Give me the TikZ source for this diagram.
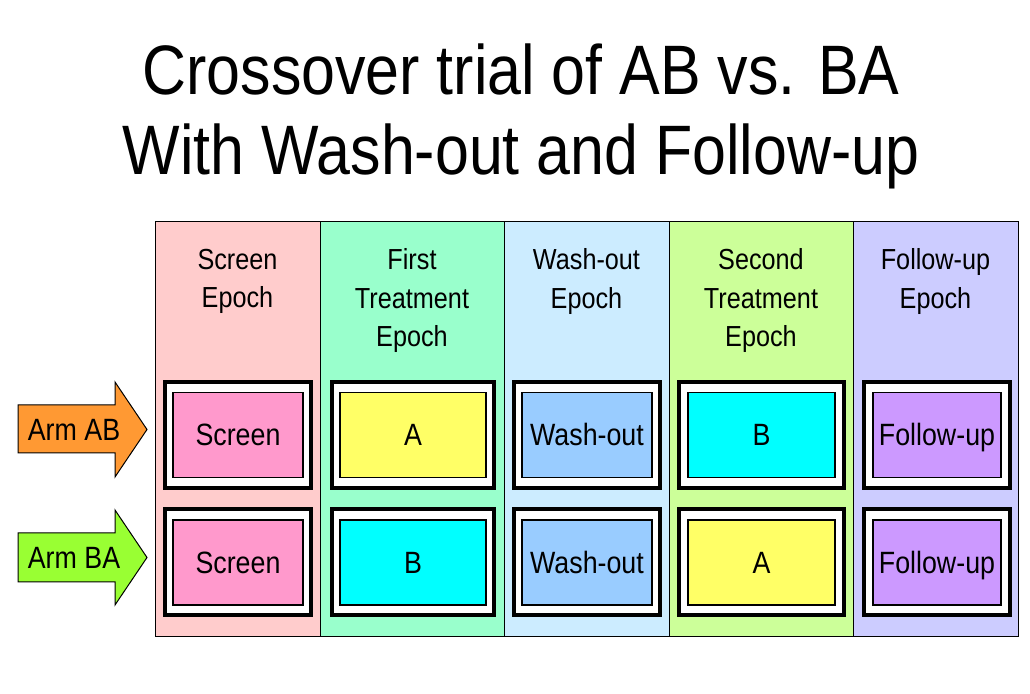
\documentclass[tikz,border=0pt]{standalone}
\usepackage{fontspec}
\setmainfont{Liberation Sans}[FakeStretch=0.87]
\usepackage{tikz}
\usetikzlibrary{positioning}
\definecolor{ScreenBg}{HTML}{FFCCCC}
\definecolor{FirstBg}{HTML}{99FFCC}
\definecolor{WashBg}{HTML}{CCECFF}
\definecolor{SecondBg}{HTML}{CCFF99}
\definecolor{FollowBg}{HTML}{CCCCFF}
\definecolor{ScreenPink}{HTML}{FF99CC}
\definecolor{TreatA}{HTML}{FFFF66}
\definecolor{TreatB}{HTML}{00FFFF}
\definecolor{WashBlue}{HTML}{99CCFF}
\definecolor{FollowLilac}{HTML}{CC99FF}
\definecolor{ArmOrange}{HTML}{FF9933}
\definecolor{ArmGreen}{HTML}{99FF33}
\tikzset{
  epoch/.style={draw=black,line width=0.5pt,minimum height=207.5pt,inner sep=0pt},
  epochtxt/.style={align=center,inner sep=0pt,font=\fontsize{14.5}{19.2}\selectfont},
  frame/.style={draw=black,line width=2pt,fill=white,minimum height=53pt,inner sep=0pt},
  cell/.style={draw=black,line width=0.6pt,minimum height=42.5pt,inner sep=0pt,
    text height=11pt,text depth=0pt,font=\fontsize{15.4}{18}\selectfont},
  armarrow/.style={draw=black,line width=0.5pt},
  armtxt/.style={inner sep=0pt,text height=11pt,text depth=0pt,
    font=\fontsize{15.4}{18}\selectfont}
}

\begin{document}
\begin{tikzpicture}[x=0.5pt,y=-0.5pt]
  \useasboundingbox (0,0) rectangle (1030,694);
  \node[align=center,font=\fontsize{35}{40}\selectfont] (title) at (521,116)
    {Crossover trial of AB vs. BA\\With Wash-out and Follow-up};
  % epoch columns
  \foreach \n/\x/\w/\bg/\hd in {1/237.5/82.5/ScreenBg/{Screen\\Epoch},
      2/412/92/FirstBg/{First\\Treatment\\Epoch},
      3/586.5/82.5/WashBg/{Wash-out\\Epoch},
      4/761/92/SecondBg/{Second\\Treatment\\Epoch},
      5/935.5/82.5/FollowBg/{Follow-up\\Epoch}}{
    \node[epoch,fill=\bg,minimum width=\w pt] (col\n) at (\x,429.5) {};
    \node[epochtxt,below=13.5pt of col\n.north] (head\n) {\hd};
  }
  % arm AB
  \node[frame,minimum width=73pt] (fa1) at (238,435) {};
  \node[frame,minimum width=81pt] (fa2) at (413,435) {};
  \node[frame,minimum width=73pt] (fa3) at (587,435) {};
  \node[frame,minimum width=82.5pt] (fa4) at (761.5,435) {};
  \node[frame,minimum width=73pt] (fa5) at (937,435) {};
  \node[cell,fill=ScreenPink,minimum width=65pt] (ca1) at (fa1) {Screen};
  \node[cell,fill=TreatA,minimum width=73pt] (ca2) at (fa2) {A};
  \node[cell,fill=WashBlue,minimum width=65pt] (ca3) at (fa3) {Wash-out};
  \node[cell,fill=TreatB,minimum width=73.5pt] (ca4) at (fa4) {B};
  \node[cell,fill=FollowLilac,minimum width=64pt] (ca5) at (fa5) {Follow-up};
  % arm BA
  \node[frame,minimum width=73pt] (fb1) at (238,562.5) {};
  \node[frame,minimum width=81pt] (fb2) at (413,562.5) {};
  \node[frame,minimum width=73pt] (fb3) at (587,562.5) {};
  \node[frame,minimum width=82.5pt] (fb4) at (761.5,562.5) {};
  \node[frame,minimum width=73pt] (fb5) at (937,562.5) {};
  \node[cell,fill=ScreenPink,minimum width=65pt] (cb1) at (fb1) {Screen};
  \node[cell,fill=TreatB,minimum width=73pt] (cb2) at (fb2) {B};
  \node[cell,fill=WashBlue,minimum width=65pt] (cb3) at (fb3) {Wash-out};
  \node[cell,fill=TreatA,minimum width=73.5pt] (cb4) at (fb4) {A};
  \node[cell,fill=FollowLilac,minimum width=64pt] (cb5) at (fb5) {Follow-up};
  % arm arrows
  \draw[armarrow,fill=ArmOrange] (18,405)--(115,405)--(115,382)--(147,429.5)
    --(115,477)--(115,453)--(18,453)--cycle;
  \node[armtxt] (armab) at (74,429.5) {Arm AB};
  \draw[armarrow,fill=ArmGreen] (18,533)--(115,533)--(115,510)--(147,557.5)
    --(115,605)--(115,582)--(18,582)--cycle;
  \node[armtxt] (armba) at (74,557.5) {Arm BA};
\end{tikzpicture}
\end{document}
